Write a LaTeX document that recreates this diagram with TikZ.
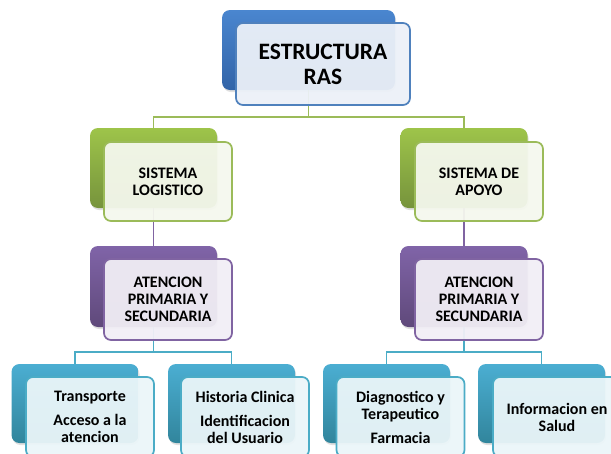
\documentclass[tikz,border=0pt]{standalone}
\usepackage{fontspec}
\setmainfont{Carlito}
\usetikzlibrary{shadows}
\definecolor{bluetop}{RGB}{74,134,207}
\definecolor{bluebot}{RGB}{50,100,168}
\definecolor{blueline}{RGB}{79,129,189}
\definecolor{greentop}{RGB}{158,196,74}
\definecolor{greenbot}{RGB}{118,147,60}
\definecolor{greenline}{RGB}{155,187,89}
\definecolor{purptop}{RGB}{128,100,168}
\definecolor{purpbot}{RGB}{95,73,122}
\definecolor{purpline}{RGB}{128,100,162}
\definecolor{cyantop}{RGB}{75,174,210}
\definecolor{cyanbot}{RGB}{49,133,156}
\definecolor{cyanline}{RGB}{75,172,198}
\tikzset{
  backbox/.style={rectangle, rounded corners=8pt, minimum width=127pt, minimum height=80pt, inner sep=0pt, draw=none,
     drop shadow={opacity=0.25, shadow xshift=1pt, shadow yshift=-2pt}},
  frontbox/.style={rectangle, rounded corners=7pt, minimum width=128pt, minimum height=79pt, inner sep=0pt,
     line width=1.7pt, fill opacity=0.94, text opacity=1, align=center, font=\bfseries\fontsize{16}{17}\selectfont},
  bluebk/.style={backbox, top color=bluetop, bottom color=bluebot},
  greenbk/.style={backbox, top color=greentop, bottom color=greenbot},
  purpbk/.style={backbox, top color=purptop, bottom color=purpbot},
  cyanbk/.style={backbox, top color=cyantop, bottom color=cyanbot},
  bluefr/.style={frontbox, draw=blueline, fill=blueline!11!white},
  greenfr/.style={frontbox, draw=greenline, fill=greenline!10!white},
  purpfr/.style={frontbox, draw=purpline, fill=purpline!10!white},
  cyanfr/.style={frontbox, draw=cyanline, fill=cyanline!11!white},
  conn/.style={line width=1.5pt}
}
\begin{document}
\begin{tikzpicture}[x=1pt,y=-1pt]
\useasboundingbox (0,0) rectangle (611,453);
\clip (0,0) rectangle (611,453);
\fill[white] (0,0) rectangle (611,453);
% back boxes
\node[bluebk, minimum width=173pt] (topB) at (308.5,50) {};
\node[greenbk] (l2lB) at (153.5,168) {};
\node[greenbk] (l2rB) at (464,168) {};
\node[purpbk, minimum height=81pt] (l3lB) at (153.5,286.5) {};
\node[purpbk, minimum height=81pt] (l3rB) at (464,286.5) {};
\node[cyanbk, minimum height=79pt] (lf1B) at (75,403.5) {};
\node[cyanbk, minimum height=79pt] (lf2B) at (231.5,403.5) {};
\node[cyanbk, minimum height=79pt] (lf3B) at (386.5,403.5) {};
\node[cyanbk, minimum height=79pt] (lf4B) at (541.5,403.5) {};
% connectors
\draw[conn, greenline] (topB.south) -- ++(0,27) -| (l2lB.north);
\draw[conn, greenline] (topB.south) -- ++(0,27) -| (l2rB.north);
\draw[conn, purpline] (l2lB.south) -- (l3lB.north);
\draw[conn, purpline] (l2rB.south) -- (l3rB.north);
\draw[conn, cyanline] (l3lB.south) -- ++(0,25) -| (lf1B.north);
\draw[conn, cyanline] (l3lB.south) -- ++(0,25) -| (lf2B.north);
\draw[conn, cyanline] (l3rB.south) -- ++(0,25) -| (lf3B.north);
\draw[conn, cyanline] (l3rB.south) -- ++(0,25) -| (lf4B.north);
% front boxes
\node[bluefr, minimum width=174pt, minimum height=82pt, font=\bfseries\fontsize{23.5}{25}\selectfont] (topF) at (323,64) {ESTRUCTURA\\RAS};
\node[greenfr] (l2lF) at (168,181.5) {SISTEMA\\LOGISTICO};
\node[greenfr] (l2rF) at (479,181.5) {SISTEMA DE\\APOYO};
\node[purpfr, minimum height=81pt] (l3lF) at (168,299.5) {ATENCION\\PRIMARIA Y\\SECUNDARIA};
\node[purpfr, minimum height=81pt] (l3rF) at (479,299.5) {ATENCION\\PRIMARIA Y\\SECUNDARIA};
\node[cyanfr, minimum height=80pt] (lf1F) at (90,417) {Transporte\\[7pt]Acceso a la\\atencion};
\node[cyanfr, minimum height=80pt] (lf2F) at (245,417) {Historia Clinica\\[7pt]Identificacion\\del Usuario};
\node[cyanfr, minimum height=80pt] (lf3F) at (400.5,417) {Diagnostico y\\Terapeutico\\[7pt]Farmacia};
\node[cyanfr, minimum height=80pt] (lf4F) at (557,417) {Informacion en\\Salud};
\end{tikzpicture}
\end{document}
